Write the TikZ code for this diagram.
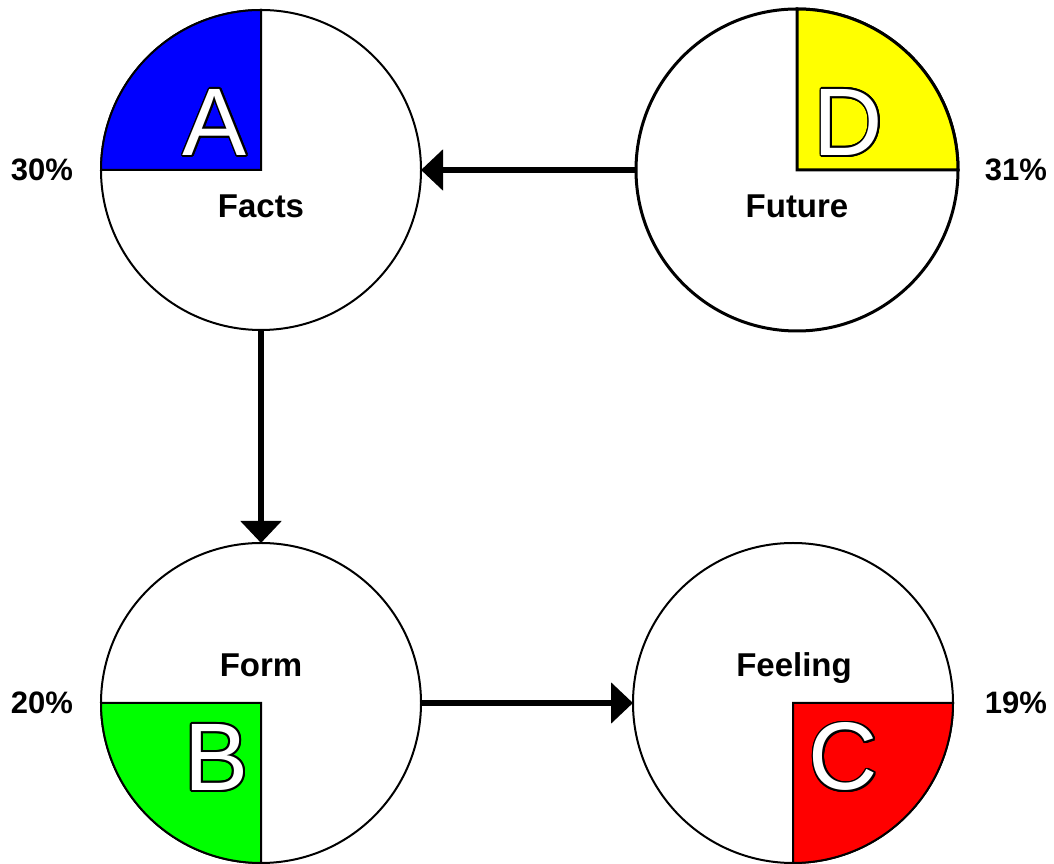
\documentclass[tikz,border=0pt]{standalone}
\usepackage{fontspec}
\setmainfont{Liberation Sans}
\usetikzlibrary{arrows.meta}
\definecolor{qblue}{RGB}{0,0,255}
\definecolor{qyellow}{RGB}{255,255,0}
\definecolor{qgreen}{RGB}{0,255,0}
\definecolor{qred}{RGB}{255,0,0}
\begin{document}
\begin{tikzpicture}[x=1pt,y=1pt,
  circ/.style={circle, draw=black, fill=white, line width=2pt, minimum size=320pt, inner sep=0pt, outer sep=0pt},
  wedge/.style={draw=black, line width=2pt, line join=miter},
  conn/.style={line width=5.5pt, -{Triangle[length=22pt,width=40pt]}},
  label/.style={font=\bfseries\fontsize{33}{33}\selectfont, inner sep=0pt, anchor=base},
  pct/.style={font=\bfseries\fontsize{31}{31}\selectfont, inner sep=0pt, anchor=base},
  bigletter/.style={font=\fontsize{96}{96}\selectfont, inner sep=0pt, anchor=base}]
\useasboundingbox (0,0) rectangle (1054,864);
% circles
\node[circ] (A) at (261,694) {};
\node[circ, line width=3pt, minimum size=322pt] (D) at (797,694) {};
\node[circ] (B) at (261,161) {};
\node[circ] (C) at (793,161) {};
% quadrants
\filldraw[wedge, fill=qblue] (A.center) -- (A.west) arc[start angle=180, end angle=90, radius=160] -- cycle;
\filldraw[wedge, fill=qyellow, line width=3pt] (D.center) -- (D.north) arc[start angle=90, end angle=0, radius=161] -- cycle;
\filldraw[wedge, fill=qgreen] (B.center) -- (B.west) arc[start angle=180, end angle=270, radius=160] -- cycle;
\filldraw[wedge, fill=qred] (C.center) -- (C.south) arc[start angle=270, end angle=360, radius=160] -- cycle;
% outlined letters
\foreach \ltr/\px/\py in {A/215/708.5, D/848.5/708.5, B/216.5/73.5, C/843.5/74}{
  \foreach \ang in {0,22.5,...,337.5}{
    \node[bigletter, text=black] (o\ltr\ang) at ([shift={(\ang:1.7)}]\px,\py) {\ltr};
  }
  \node[bigletter, text=white] (L\ltr) at (\px,\py) {\ltr};
}
% labels
\node[label] (tA) at (261,646) {Facts};
\node[label] (tD) at (797,646) {Future};
\node[label] (tB) at (261,187) {Form};
\node[label] (tC) at (794,187) {Feeling};
% percentages
\node[pct] (pA) at (42,683) {30\%};
\node[pct] (pD) at (1016,683) {31\%};
\node[pct] (pB) at (42,150) {20\%};
\node[pct] (pC) at (1016,150) {19\%};
% connectors
\draw[conn] (D) -- (A);
\draw[conn] (A) -- (B);
\draw[conn] (B) -- (C);
\end{tikzpicture}
\end{document}
